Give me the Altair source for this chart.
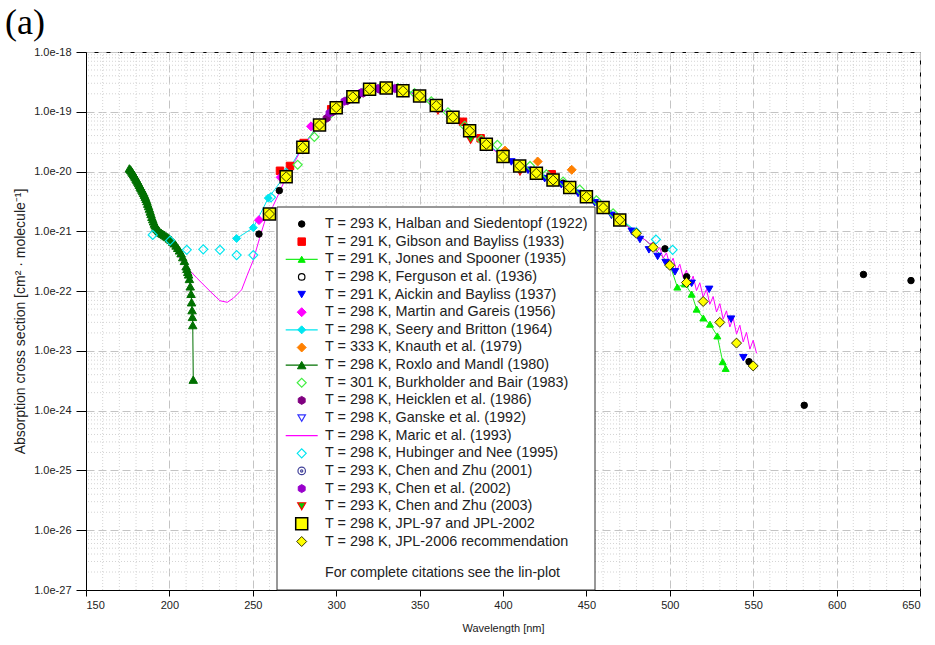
import altair as alt
import pandas as pd

# ---------------- data (wavelength in nm, cross section in cm^2/molecule) ----------------
halban_wl = [253.7, 265.9, 313, 436, 497.1, 510.1, 547.5, 580.6, 616.1, 644.6]
halban = [9.0e-22, 4.8e-21, 1.85e-19, 6.4e-21, 5.1e-22, 1.74e-22, 6.6e-24, 1.23e-24, 1.9e-22, 1.5e-22]

gibson_wl = [266.3, 272.3, 280.5, 290, 297, 310, 320, 330, 340, 350.2, 358.8, 370, 376, 386.6, 400, 410, 420, 429.2]
gibson = [1.03e-20, 1.24e-20, 3.0e-20, 6.3e-20, 1.1e-19, 1.85e-19, 2.35e-19, 2.5e-19, 2.3e-19, 1.9e-19,
          1.38e-19, 8.3e-20, 6.8e-20, 3.6e-20, 1.9e-20, 1.3e-20, 9.6e-21, 9.0e-21]

jones_wl = [280, 290, 300, 310, 320, 333, 340, 350, 360, 370, 380, 390, 400, 410, 420, 430, 440, 450, 460, 470,
            480, 490, 500, 504.5, 509.1, 513.1, 516.1, 520.1, 524.1, 528.5, 531.7, 533.5]
jones = [2.7e-20, 6.4e-20, 1.2e-19, 1.8e-19, 2.35e-19, 2.8e-19, 2.4e-19, 1.85e-19, 1.3e-19, 8.3e-20, 4.9e-20,
         2.9e-20, 1.8e-20, 1.25e-20, 9.5e-21, 7.3e-21, 5.5e-21, 3.9e-21, 2.5e-21, 1.6e-21, 9.5e-22, 5.5e-22,
         2.8e-22, 1.17e-22, 1.32e-22, 8.9e-23, 5.0e-23, 3.55e-23, 2.8e-23, 1.78e-23, 6.6e-24, 5.1e-24]

ferguson_wl = [290, 300, 310, 320, 330, 340, 350, 360, 370]
ferguson = [6.2e-20, 1.15e-19, 1.8e-19, 2.3e-19, 2.5e-19, 2.3e-19, 1.85e-19, 1.3e-19, 8.0e-20]

aickin_wl = [400, 405, 410, 415, 420, 425, 430, 435, 440, 445, 450, 455, 460, 465, 470, 477.2, 482.1, 487.5,
             492.7, 497.5, 503.1, 513.1, 523.6, 536.7, 544.1]
aickin = [1.7e-20, 1.45e-20, 1.2e-20, 1.05e-20, 9.0e-21, 7.6e-21, 6.8e-21, 6.0e-21, 5.0e-21, 4.3e-21, 3.6e-21,
          3.0e-21, 2.3e-21, 1.85e-21, 1.4e-21, 1.0e-21, 7.3e-22, 4.9e-22, 3.8e-22, 3.0e-22, 2.1e-22, 1.35e-22,
          1.07e-22, 3.4e-23, 7.7e-24]

martin_wl = [253.7, 266.7, 284.9, 300, 310, 320, 330, 340, 350, 360]
martin = [1.54e-21, 8.0e-21, 5.7e-20, 1.25e-19, 1.9e-19, 2.4e-19, 2.55e-19, 2.3e-19, 1.85e-19, 1.35e-19]

seery_wl = [240.3, 250.3, 259.3, 270, 280, 290, 300, 310, 320, 330, 340, 350, 360, 370, 380, 390, 400, 410,
            420, 430, 440, 451.2, 461.2, 470, 480]
seery = [7.6e-22, 1.15e-21, 3.6e-21, 9.0e-21, 2.7e-20, 6.2e-20, 1.2e-19, 1.8e-19, 2.35e-19, 2.55e-19, 2.35e-19,
         1.9e-19, 1.3e-19, 8.2e-20, 4.9e-20, 2.9e-20, 1.85e-20, 1.28e-20, 9.8e-21, 7.6e-21, 5.7e-21, 4.1e-21,
         2.66e-21, 1.65e-21, 1.0e-21]

knauth_wl = [401.2, 420.8, 441.2]
knauth = [2.24e-20, 1.47e-20, 1.07e-20]

roxlo_wl = [176, 176.5, 177, 177.5, 178, 178.5, 179, 179.5, 180, 180.5, 181, 181.5, 182, 182.5, 183, 183.5,
            184, 184.5, 185, 185.5, 186, 186.5, 187, 187.5, 188, 188.5, 189, 189.5, 190, 190.5, 191, 191.5,
            192, 192.5, 193, 193.5, 194, 195, 196, 197, 198, 199, 200, 201, 202, 203, 204, 205, 206, 207, 208,
            209, 210, 210.5, 211, 211.5, 212, 212.5, 213, 213.3, 213.6, 213.8, 214.0, 214.3]
roxlo = [1.13e-20, 1.09e-20, 1.05e-20, 1.0e-20, 9.5e-21, 9.0e-21, 8.6e-21, 8.1e-21, 7.6e-21, 7.2e-21, 6.8e-21,
         6.4e-21, 6.0e-21, 5.6e-21, 5.3e-21, 5.0e-21, 4.7e-21, 4.4e-21, 4.1e-21, 3.8e-21, 3.5e-21, 3.2e-21,
         2.9e-21, 2.65e-21, 2.4e-21, 2.15e-21, 1.95e-21, 1.75e-21, 1.6e-21, 1.47e-21, 1.35e-21, 1.26e-21,
         1.18e-21, 1.12e-21, 1.08e-21, 1.04e-21, 1.0e-21, 9.5e-22, 9.1e-22, 8.7e-22, 8.3e-22, 8.0e-22, 7.6e-22,
         7.2e-22, 6.7e-22, 6.3e-22, 5.8e-22, 5.3e-22, 4.8e-22, 4.3e-22, 3.7e-22, 3.2e-22, 2.6e-22, 2.35e-22,
         2.1e-22, 1.9e-22, 1.6e-22, 1.2e-22, 9.0e-23, 6.5e-23, 4.8e-23, 3.7e-23, 2.7e-23, 3.3e-24]

burk_wl = [276.9, 286.9, 297, 307, 317, 327, 337, 347, 357, 367, 377, 387, 396.6, 416.2, 426, 436, 446, 456, 466]
burk = [1.3e-20, 3.8e-20, 9.5e-20, 1.6e-19, 2.2e-19, 2.6e-19, 2.5e-19, 2.05e-19, 1.5e-19, 9.8e-20, 5.8e-20,
        3.4e-20, 2.8e-20, 1.24e-20, 9.0e-21, 6.8e-21, 5.0e-21, 3.3e-21, 2.0e-21]

heicklen_wl = [294.3, 298, 302, 306.6, 311, 316.2, 321, 325.8, 331, 336]
heicklen = [7.8e-20, 1.0e-19, 1.25e-19, 1.53e-19, 1.8e-19, 2.05e-19, 2.3e-19, 2.38e-19, 2.5e-19, 2.45e-19]

ganske_wl = [280, 300, 320, 340, 360, 380, 400, 420, 440, 460]
ganske = [2.6e-20, 1.2e-19, 2.4e-19, 2.3e-19, 1.3e-19, 4.7e-20, 1.75e-20, 9.2e-21, 5.3e-21, 2.4e-21]

maric_wl = [201.7, 208.3, 216.4, 224.3, 230.3, 234.7, 238.3, 243.3, 246.5, 250.3, 254.0, 258.3, 262, 266, 270,
            275, 280, 290, 300, 310, 320, 330, 340, 350, 360, 370, 380, 390, 400, 410, 420, 430, 440, 450, 460,
            470, 480, 482, 484, 486, 488, 490, 492, 494, 496, 498, 500, 502, 504, 506, 508, 510, 512, 514, 516,
            518, 520, 522, 524, 526, 528, 530, 532, 534, 536, 538, 540, 542, 544, 546, 548, 550, 552]
maric = [5.9e-22, 2.9e-22, 1.66e-22, 1.0e-22, 6.9e-23, 6.5e-23, 7.6e-23, 1.05e-22, 1.8e-22, 3.3e-22, 7.6e-22,
         1.87e-21, 2.6e-21, 4.5e-21, 8.2e-21, 1.45e-20, 2.6e-20, 6.1e-20, 1.18e-19, 1.82e-19, 2.35e-19, 2.55e-19,
         2.3e-19, 1.85e-19, 1.28e-19, 8.2e-20, 4.7e-20, 2.85e-20, 1.75e-20, 1.2e-20, 9.2e-21, 7.0e-21, 5.2e-21,
         3.7e-21, 2.4e-21, 1.5e-21, 9.33e-22, 8.51e-22, 7.59e-22, 6.92e-22, 6.17e-22, 6.46e-22, 4.47e-22,
         5.37e-22, 3.55e-22, 4.37e-22, 2.75e-22, 3.55e-22, 2.19e-22, 2.82e-22, 1.70e-22, 2.24e-22, 1.32e-22,
         1.78e-22, 1.02e-22, 1.38e-22, 7.94e-23, 1.07e-22, 6.03e-23, 8.13e-23, 4.47e-23, 6.17e-23, 3.39e-23,
         4.68e-23, 2.51e-23, 3.55e-23, 1.91e-23, 2.69e-23, 1.41e-23, 2.04e-23, 1.07e-23, 1.51e-23, 9.1e-24]

hubinger_wl = [190, 200.4, 210.4, 220.3, 230.3, 240.3, 250.3, 260.9, 270, 280, 290, 491.7, 501.7]
hubinger = [8.7e-22, 7.0e-22, 4.9e-22, 5.0e-22, 4.9e-22, 4.0e-22, 4.0e-22, 3.7e-21, 9.5e-21, 2.5e-20, 6.0e-20,
            7.3e-22, 4.9e-22]

chenzhu01_wl = [300, 320, 340, 360, 380, 400, 420]
chenzhu01 = [1.18e-19, 2.35e-19, 2.28e-19, 1.28e-19, 4.8e-20, 1.8e-20, 9.3e-21]

chen02_wl = [296, 300, 305, 310, 315, 320, 325, 330, 335, 340]
chen02 = [9.5e-20, 1.18e-19, 1.5e-19, 1.8e-19, 2.1e-19, 2.35e-19, 2.45e-19, 2.5e-19, 2.45e-19, 2.3e-19]

chenzhu03_wl = [330, 340, 350, 361, 370, 380.6, 390, 400, 410.2, 420, 430]
chenzhu03 = [2.5e-19, 2.25e-19, 1.8e-19, 1.05e-19, 7.6e-20, 3.4e-20, 2.7e-20, 1.65e-20, 1.0e-20, 8.6e-21, 6.6e-21]

jpl97_wl = [260, 270, 280, 290, 300, 310, 320, 330, 340, 350, 360, 370, 380, 390, 400, 410, 420, 430, 440, 450,
            460, 470]
jpl97 = [1.95e-21, 8.2e-21, 2.55e-20, 6.0e-20, 1.17e-19, 1.78e-19, 2.38e-19, 2.5e-19, 2.25e-19, 1.84e-19,
         1.27e-19, 8.1e-20, 4.8e-20, 2.86e-20, 1.78e-20, 1.24e-20, 9.4e-21, 7.2e-21, 5.4e-21, 3.8e-21, 2.5e-21,
         1.55e-21]

jpl06_wl = [260, 270, 280, 290, 300, 310, 320, 330, 340, 350, 360, 370, 380, 390, 400, 410, 420, 430, 440, 450,
            460, 470, 480, 490, 500, 510, 520, 530, 540, 550]
jpl06 = [1.95e-21, 8.2e-21, 2.55e-20, 6.0e-20, 1.17e-19, 1.78e-19, 2.38e-19, 2.5e-19, 2.25e-19, 1.84e-19,
         1.27e-19, 8.1e-20, 4.8e-20, 2.86e-20, 1.78e-20, 1.24e-20, 9.4e-21, 7.2e-21, 5.4e-21, 3.8e-21, 2.5e-21,
         1.55e-21, 9.3e-22, 5.4e-22, 2.7e-22, 1.39e-22, 6.7e-23, 3.0e-23, 1.35e-23, 5.6e-24]

labels = [
    "T = 293 K, Halban and Siedentopf (1922)",
    "T = 291 K, Gibson and Bayliss (1933)",
    "T = 291 K, Jones and Spooner (1935)",
    "T = 298 K, Ferguson et al. (1936)",
    "T = 291 K, Aickin and Bayliss (1937)",
    "T = 298 K, Martin and Gareis (1956)",
    "T = 298 K, Seery and Britton (1964)",
    "T = 333 K, Knauth et al. (1979)",
    "T = 298 K, Roxlo and Mandl (1980)",
    "T = 301 K, Burkholder and Bair (1983)",
    "T = 298 K, Heicklen et al. (1986)",
    "T = 298 K, Ganske et al. (1992)",
    "T = 298 K, Maric et al. (1993)",
    "T = 298 K, Hubinger and Nee (1995)",
    "T = 293 K, Chen and Zhu (2001)",
    "T = 293 K, Chen et al. (2002)",
    "T = 293 K, Chen and Zhu (2003)",
    "T = 298 K, JPL-97 and JPL-2002",
    "T = 298 K, JPL-2006 recommendation",
]
series_data = [
    (halban_wl, halban), (gibson_wl, gibson), (jones_wl, jones), (ferguson_wl, ferguson),
    (aickin_wl, aickin), (martin_wl, martin), (seery_wl, seery), (knauth_wl, knauth),
    (roxlo_wl, roxlo), (burk_wl, burk), (heicklen_wl, heicklen), (ganske_wl, ganske),
    (maric_wl, maric), (hubinger_wl, hubinger), (chenzhu01_wl, chenzhu01), (chen02_wl, chen02),
    (chenzhu03_wl, chenzhu03), (jpl97_wl, jpl97), (jpl06_wl, jpl06),
]
note = "For complete citations see the lin-plot"

x_ticks = [150, 200, 250, 300, 350, 400, 450, 500, 550, 600, 650]
y_ticks = [1e-27, 1e-26, 1e-25, 1e-24, 1e-23, 1e-22, 1e-21, 1e-20, 1e-19, 1e-18]

# ---------------- styles ----------------
HEX = "M0,-1L0.866,-0.5L0.866,0.5L0,1L-0.866,0.5L-0.866,-0.5Z"
ODOT = "M1,0A1,1,0,1,1,-1,0A1,1,0,1,1,1,0Z M0.3,0A0.3,0.3,0,1,1,-0.3,0A0.3,0.3,0,1,1,0.3,0Z"
CYAN = "#00e6f0"
styles = [
    dict(shape="circle", fill="#000000", stroke="#000000", size=42, sw=1, line=None),
    dict(shape="square", fill="#ff0000", stroke="#ff0000", size=56, sw=1, line=None),
    dict(shape="triangle-up", fill="#00ee00", stroke="#00ee00", size=49, sw=1, line="#22ee22"),
    dict(shape="circle", fill="transparent", stroke="#000000", size=42, sw=1.2, line=None),
    dict(shape="triangle-down", fill="#0000ff", stroke="#0000ff", size=56, sw=1, line=None),
    dict(shape="diamond", fill="#ff00ff", stroke="#ff00ff", size=81, sw=1, line=None),
    dict(shape="diamond", fill=CYAN, stroke=CYAN, size=64, sw=1, line=CYAN),
    dict(shape="diamond", fill="#ff8000", stroke="#ff8000", size=81, sw=1, line=None),
    dict(shape="triangle-up", fill="#007000", stroke="#007000", size=72, sw=1, line="#007000"),
    dict(shape="diamond", fill="transparent", stroke="#44ee44", size=81, sw=1.2, line=None),
    dict(shape=HEX, fill="#800080", stroke="#800080", size=64, sw=1, line=None),
    dict(shape="triangle-down", fill="transparent", stroke="#3333ff", size=56, sw=1.2, line=None),
    dict(shape=None, fill=None, stroke=None, size=None, sw=None, line="#ff00ff"),
    dict(shape="diamond", fill="transparent", stroke=CYAN, size=81, sw=1.2, line=None),
    dict(shape=ODOT, fill="transparent", stroke="#404099", size=56, sw=1.2, line=None),
    dict(shape=HEX, fill="#9900cc", stroke="#9900cc", size=64, sw=1, line=None),
    dict(shape="triangle-down", fill="#00cc00", stroke="#ff0000", size=64, sw=1.2, line=None),
    dict(shape="square", fill="#ffff00", stroke="#000000", size=144, sw=1.5, line=None),
    dict(shape="diamond", fill="#ffff00", stroke="#333300", size=100, sw=1, line=None),
]
line_only = {2, 6, 8, 12}  # series drawn with connecting lines

rows = []
for i, ((wl, val), lab) in enumerate(zip(series_data, labels)):
    st = styles[i]
    for w, v in zip(wl, val):
        rows.append(dict(series=lab, idx=i, wl=w, sigma=v, **st))
df = pd.DataFrame(rows)

leg = pd.DataFrame([dict(idx=i, label=lab, **styles[i]) for i, lab in enumerate(labels)])

FONT = "Liberation Sans"
GRID = "#c4c4c4"
MINOR = "#d4d4d4"

x_enc = alt.X("wl:Q", scale=alt.Scale(domain=[150, 650], nice=False, zero=False),
              axis=alt.Axis(values=x_ticks, title="Wavelength [nm]", grid=True, gridDash=[8, 4],
                            gridColor=GRID, tickSize=6, labelPadding=3, titlePadding=12, format="d"))
y_enc = alt.Y("sigma:Q", scale=alt.Scale(type="log", domain=[1e-27, 1e-18], nice=False),
              axis=alt.Axis(values=y_ticks, format=".1e", grid=True, gridDash=[8, 4], gridColor=GRID,
                            tickSize=10, labelPadding=5, titlePadding=6, titleFontSize=14,
                            title="Absorption cross section [cm² · molecule⁻¹]"))

minor_x = pd.DataFrame({"wl": [w for w in range(160, 650, 10) if w % 50 != 0]})
minor_y = pd.DataFrame({"sigma": [m * 10.0 ** e for e in range(-27, -18) for m in range(2, 10)]})

mx = alt.Chart(minor_x).mark_rule(color=MINOR, strokeDash=[1, 2], strokeWidth=1).encode(x=x_enc)
my = alt.Chart(minor_y).mark_rule(color=MINOR, strokeDash=[1, 2], strokeWidth=1).encode(y=y_enc)

lines = alt.Chart(df[df["idx"].isin(line_only)]).mark_line(strokeWidth=1, clip=True).encode(
    x=x_enc, y=y_enc, detail="series:N", stroke=alt.Stroke("line:N", scale=None))

pts = alt.Chart(df[df["shape"].notna()]).mark_point(filled=True, opacity=1, clip=True).encode(
    x=x_enc, y=y_enc,
    shape=alt.Shape("shape:N", scale=None),
    fill=alt.Fill("fill:N", scale=None),
    stroke=alt.Stroke("stroke:N", scale=None),
    size=alt.Size("size:Q", scale=None),
    strokeWidth=alt.StrokeWidth("sw:Q", scale=None),
)

main = alt.layer(mx, my, lines, pts)

# ---------------- legend drawn as its own layer ----------------
ly = alt.Y("idx:Q", scale=alt.Scale(domain=[0, 18], range=[172, 489.5]), axis=None)
one = pd.DataFrame({"t": [note]})
box = alt.Chart(one).mark_rect(fill="white", stroke="#333333", strokeWidth=1).encode(
    x=alt.value(191), x2=alt.value(509), y=alt.value(155), y2=alt.value(538))
lrule = alt.Chart(leg[leg["line"].notna()]).mark_rule(strokeWidth=1.3).encode(
    x=alt.value(199.7), x2=alt.value(231.7), y=ly, stroke=alt.Stroke("line:N", scale=None))
lpts = alt.Chart(leg[leg["shape"].notna()]).mark_point(filled=True, opacity=1).encode(
    x=alt.value(215.7), y=ly,
    shape=alt.Shape("shape:N", scale=None),
    fill=alt.Fill("fill:N", scale=None),
    stroke=alt.Stroke("stroke:N", scale=None),
    size=alt.Size("size:Q", scale=None),
    strokeWidth=alt.StrokeWidth("sw:Q", scale=None),
)
ltext = alt.Chart(leg).mark_text(align="left", baseline="middle", font=FONT, fontSize=14.4,
                                 color="#222222").encode(x=alt.value(239), y=ly, text="label:N")
lnote = alt.Chart(one).mark_text(align="left", baseline="middle", font=FONT, fontSize=14.2,
                                 color="#222222").encode(x=alt.value(239), y=alt.value(520.5), text="t:N")
legend = alt.layer(box, lrule, lpts, ltext, lnote)

chart = alt.layer(main, legend).resolve_scale(y="independent").properties(
    width=834, height=538,
    padding={"left": 86, "top": 52, "right": 15, "bottom": 55},
    autosize=alt.AutoSizeParams(type="none"),
    title=alt.TitleParams("(a)", anchor="start", frame="group", font="Liberation Serif", fontSize=36,
                          fontWeight="normal", color="black", dx=-81, offset=4),
).configure_view(stroke="black", strokeWidth=1).configure_axis(
    labelFont=FONT, titleFont=FONT, labelFontSize=11, titleFontSize=11, labelColor="#222222",
    titleColor="#222222", titleFontWeight="normal", domainColor="#000000", tickColor="#000000",
)

chart.save("out.html", embed_options={"renderer": "svg", "actions": False})
